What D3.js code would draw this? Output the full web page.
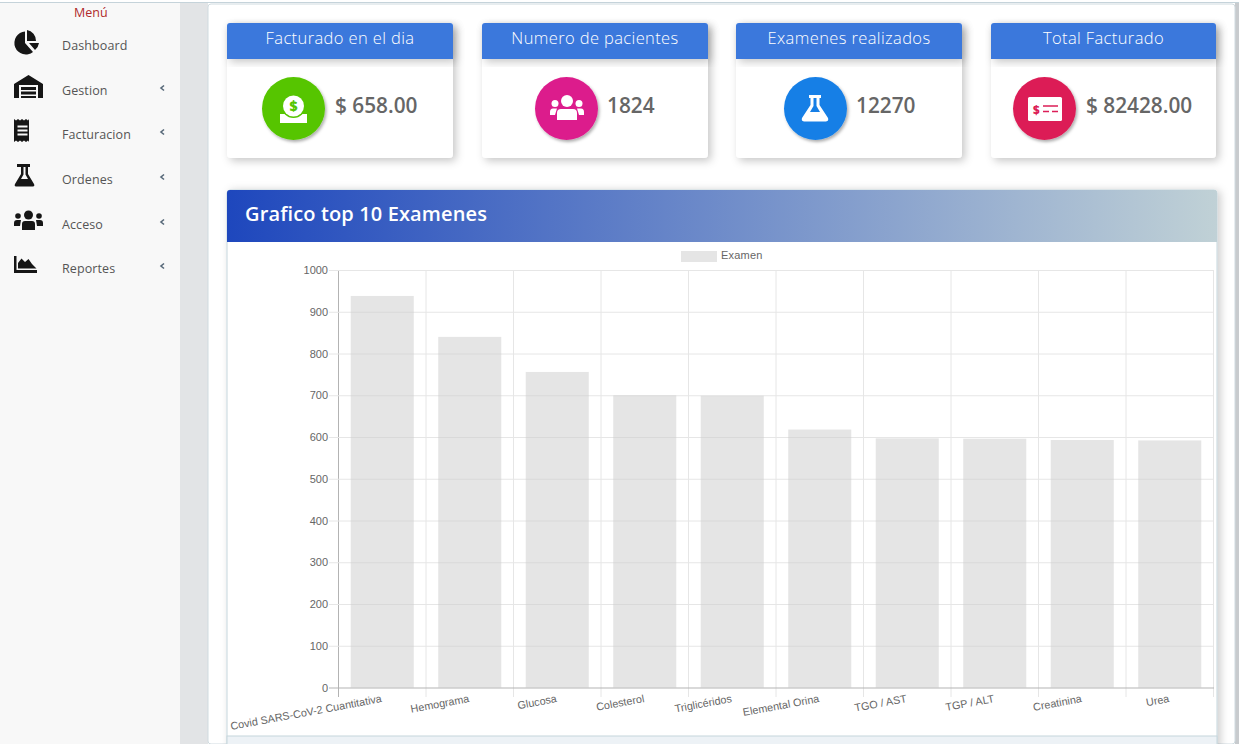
<!DOCTYPE html>
<html><head><meta charset="utf-8">
<script src="https://cdnjs.cloudflare.com/ajax/libs/d3/7.8.5/d3.min.js"></script>
<style>
html,body{margin:0;padding:0;background:#fff;overflow:hidden}
svg{display:block}
text{font-family:"Open Sans","Noto Sans",sans-serif}
.ch text{font-family:"Liberation Sans",Arial,sans-serif}
</style></head><body><div id="c"></div>
<script>
const categories=["Covid SARS-CoV-2 Cuantitativa","Hemograma","Glucosa","Colesterol","Triglicéridos","Elemental Orina","TGO / AST","TGP / ALT","Creatinina","Urea"];
const examValues=[939,841,757,701,700,619,598,597,594,593];
const yTicks=[0,100,200,300,400,500,600,700,800,900,1000];
const menuItems=["Dashboard","Gestion","Facturacion","Ordenes","Acceso","Reportes"];
const cardTitles=["Facturado en el dia","Numero de pacientes","Examenes realizados","Total Facturado"];
const cardValues=["$ 658.00","1824","12270","$ 82428.00"];
const cardColors=["#56c500","#dc1d8c","#167fe6","#dc1e57"];

const svg=d3.select("#c").append("svg").attr("width",1239).attr("height",744);
const defs=svg.append("defs");
const grad=defs.append("linearGradient").attr("id","hd");
grad.append("stop").attr("offset","0").attr("stop-color","#1e47bd");
grad.append("stop").attr("offset","1").attr("stop-color","#c0d1d6");
const sh=defs.append("filter").attr("id","sh").attr("x","-10%").attr("y","-10%").attr("width","125%").attr("height","130%");
sh.append("feDropShadow").attr("dx",3).attr("dy",3).attr("stdDeviation",4).attr("flood-color","#000").attr("flood-opacity",.22);
const sh2=defs.append("filter").attr("id","sh2").attr("x","-20%").attr("y","-20%").attr("width","140%").attr("height","140%");
sh2.append("feDropShadow").attr("dx",1.5).attr("dy",2).attr("stdDeviation",1.5).attr("flood-color","#000").attr("flood-opacity",.32);
const sh3=defs.append("filter").attr("id","sh3").attr("x","-3%").attr("y","-3%").attr("width","106%").attr("height","106%");
sh3.append("feDropShadow").attr("dx",3).attr("dy",1).attr("stdDeviation",4).attr("flood-color","#000").attr("flood-opacity",.2);

// page frame
svg.append("rect").attr("width",1239).attr("height",744).attr("fill","#fff");
svg.append("rect").attr("x",0).attr("y",3).attr("width",180).attr("height",741).attr("fill","#f8f8f8");
svg.append("rect").attr("x",180).attr("y",3).attr("width",28).attr("height",741).attr("fill","#e2e4e6");
svg.append("rect").attr("x",1235).attr("y",3).attr("width",4).attr("height",741).attr("fill","#c8cbce");
svg.append("rect").attr("x",208).attr("y",4).attr("width",1027).attr("height",740).attr("rx",3).attr("fill","#fff").attr("stroke","#d0dbe0");
svg.append("rect").attr("x",0).attr("y",2).attr("width",1239).attr("height",1).attr("fill","#c5d3da");

// sidebar
svg.append("text").attr("x",74).attr("y",17).attr("font-size",12.5).attr("fill","#b02a2a").text("Menú");
const itemY=[50,95,139,184,229,273];
const side=svg.append("g");
menuItems.forEach((m,i)=>{
  side.append("text").attr("x",62).attr("y",itemY[i]).attr("font-size",12.5).attr("letter-spacing",.1).attr("fill","#555").text(m);
  if(i>0) side.append("path").attr("d",`M164 ${itemY[i]-9.5}l-3 2.5l3 2.5`).attr("fill","none").attr("stroke","#566878").attr("stroke-width",1.6);
});
const K="#161616";
side.append("path").attr("fill",K).attr("d","M25 31.5A11.5 11.5 0 1 0 33 52L25 43Z M27 30A11 11 0 0 1 36 41H27Z M29 43H39A11 11 0 0 1 35 50Z");
side.append("path").attr("fill",K).attr("fill-rule","evenodd").attr("d","M14 98V84L28.5 75L43 84V98H38V85H19V98Z M21 87H36V90H21Z M21 91.5H36V94.5H21Z M21 96H36V98H21Z");
side.append("path").attr("fill",K).attr("fill-rule","evenodd").attr("d","M14 119l2 1.5l2-1.5l2 1.5l2-1.5l2 1.5l2-1.5l2 1.5l1 -1.5V142l-1-1.5l-2 1.5l-2-1.5l-2 1.5l-2-1.5l-2 1.5l-2-1.5l-2 1.5Z M17.5 125.5V127.5H27.5V125.5Z M17.5 129.5V131.5H27.5V129.5Z M17.5 133.5V135.5H27.5V133.5Z");
side.append("path").attr("fill",K).attr("fill-rule","evenodd").attr("d","M17 164H30V167H28V174L34 184Q35 186 33 186.500H16Q14 186 15 184L21 174V167H17Z M23.500 167V174.500L21 179H28L25.500 174.500V167Z");
side.append("circle").attr("cx",28.5).attr("cy",215).attr("r",4.5).attr("fill",K);
side.append("circle").attr("cx",18).attr("cy",216).attr("r",2.8).attr("fill",K);
side.append("circle").attr("cx",39).attr("cy",216).attr("r",2.8).attr("fill",K);
side.append("path").attr("fill",K).attr("d","M22 230V224Q22 221 25 221H32Q35 221 35 224V230Z M14 226V223Q14 220 17 220H21L20 226Z M43 226V223Q43 220 40 220H36L37 226Z");
side.append("path").attr("fill",K).attr("d","M14 256H16.500V270H37V273H14Z M18 268.500V263L21.500 258.500L25 262L28.500 259L32 264L36.500 268.500Z");

// cards
const cardX=[227,482,736,991];
const cardW=[226,226,226,225];
const circleX=[293.5,566.5,815.5,1044.5];
const valueX=[335,607,856,1086];
const cards=svg.selectAll("g.card").data(cardTitles).join("g").attr("class","card");
cards.append("rect").attr("x",(d,i)=>cardX[i]).attr("y",23).attr("width",(d,i)=>cardW[i]).attr("height",135).attr("rx",4).attr("fill","#fff").attr("filter","url(#sh)");
cards.append("path").attr("d",(d,i)=>`M${cardX[i]} 59V26a3 3 0 0 1 3-3H${cardX[i]+cardW[i]-3}a3 3 0 0 1 3 3V59Z`).attr("fill","#3a78dc").attr("filter","url(#sh)");
cards.append("text").attr("x",(d,i)=>cardX[i]+cardW[i]/2).attr("y",44).attr("text-anchor","middle").attr("font-size",16.5).attr("font-weight",300).attr("letter-spacing",.38).attr("fill","#fff").text(d=>d);
cards.append("circle").attr("cx",(d,i)=>circleX[i]).attr("cy",108.500).attr("r",31.5).attr("fill",(d,i)=>cardColors[i]).attr("filter","url(#sh2)");
cards.append("text").attr("x",(d,i)=>valueX[i]).attr("y",113).attr("font-size",20.8).attr("font-weight",600).attr("fill","#666").text((d,i)=>cardValues[i]);
// card glyphs
const W="#fff";
const g1=svg.append("g");
g1.append("rect").attr("x",280).attr("y",114).attr("width",27).attr("height",9).attr("fill",W);
g1.append("circle").attr("cx",293.500).attr("cy",106).attr("r",12).attr("fill","#56c500");
g1.append("circle").attr("cx",293.500).attr("cy",106).attr("r",10.5).attr("fill",W);
g1.append("text").attr("x",293.500).attr("y",111).attr("text-anchor","middle").attr("font-size",14).attr("font-weight",800).attr("fill","#56c500").text("$");
const g2=svg.append("g").attr("fill",W);
g2.append("circle").attr("cx",567).attr("cy",101).attr("r",6);
g2.append("circle").attr("cx",555).attr("cy",103.500).attr("r",3.5);
g2.append("circle").attr("cx",579).attr("cy",103.500).attr("r",3.500);
g2.append("path").attr("d","M557 120V113Q557 109 561 109H573Q577 109 577 113V120Z M550 115V112Q550 108.500 553 108.500H557L555 115Z M584 115V112Q584 108.500 581 108.500H577L579 115Z");
svg.append("path").attr("fill",W).attr("fill-rule","evenodd").attr("d","M809 95H821V98H819.500V105L828 118Q829 121 826 121.500H804Q801 121 802 118L810.500 105V98H809Z M813.500 98V106L810 112H820L816.500 106V98Z");
const g4=svg.append("g");
g4.append("rect").attr("x",1028).attr("y",97).attr("width",34).attr("height",24).attr("rx",1.5).attr("fill",W);
g4.append("text").attr("x",1033).attr("y",114).attr("font-size",11.5).attr("font-weight",800).attr("fill","#dc1e57").text("$");
g4.append("path").attr("d","M1043 106H1058M1043 111.500H1049M1052 111.500H1058").attr("stroke","#dc1e57").attr("stroke-width",1.4);

// chart panel
svg.append("rect").attr("x",227).attr("y",190).attr("width",990).attr("height",560).attr("fill","#fff").attr("rx",3).attr("stroke","#c5d6dc").attr("filter","url(#sh3)");
svg.append("path").attr("d","M227 242V193a3 3 0 0 1 3-3H1214a3 3 0 0 1 3 3V242Z").attr("fill","url(#hd)");
svg.append("text").attr("x",245).attr("y",221).attr("font-size",20).attr("font-weight",600).attr("letter-spacing",.13).attr("fill","#fff").text("Grafico top 10 Examenes");
svg.append("rect").attr("x",227).attr("y",736).attr("width",990).attr("height",10).attr("fill","#edf2f6").attr("stroke","#c5d6dc");

// chart
const ch=svg.append("g").attr("class","ch");
const x=d3.scaleBand().domain(categories).range([338.5,1213.5]).paddingInner(.28).paddingOuter(.14);
const y=d3.scaleLinear().domain([0,1000]).range([688,270.5]);
const step=x.step();
const edges=d3.range(categories.length+1).map(i=>338.5+i*step);
ch.append("g").selectAll("line").data(edges).join("line")
  .attr("x1",d=>d).attr("x2",d=>d).attr("y1",y(1000)).attr("y2",697)
  .attr("stroke",(d,i)=>i==0?"#b3b3b3":"#e6e6e6");
ch.append("g").selectAll("line").data(yTicks).join("line")
  .attr("x1",329).attr("x2",1214).attr("y1",d=>y(d)).attr("y2",d=>y(d))
  .attr("stroke",d=>d==0?"#b3b3b3":"#e6e6e6");
ch.append("g").selectAll("rect").data(examValues).join("rect")
  .attr("x",(d,i)=>x(categories[i])).attr("width",x.bandwidth())
  .attr("y",d=>y(d)).attr("height",d=>y(0)-y(d)).attr("fill","rgba(203,203,203,.5)");
const yAxis=ch.append("g").attr("transform","translate(338,-0.5)").call(d3.axisLeft(y).tickValues(yTicks).tickSize(0).tickPadding(10).tickFormat(d3.format("d")));
yAxis.select(".domain").remove();
yAxis.selectAll("text").attr("font-size",11).attr("fill","#666").attr("font-family","Liberation Sans, Arial, sans-serif");
const xAxis=ch.append("g").attr("transform","translate(0,688)").call(d3.axisBottom(x).tickSize(0).tickPadding(0));
xAxis.select(".domain").remove();
xAxis.selectAll("text").attr("font-size",10.8).attr("fill","#666").attr("text-anchor","end").attr("font-family","Liberation Sans, Arial, sans-serif")
  .attr("dy",0).attr("y",0)
  .attr("transform","translate(0,14) rotate(-10.5)");
ch.append("rect").attr("x",681).attr("y",251).attr("width",36).attr("height",11).attr("fill","rgba(203,203,203,.5)");
ch.append("text").attr("x",721).attr("y",259).attr("font-size",11).attr("letter-spacing",.2).attr("fill","#666").text("Examen");
</script></body></html>
